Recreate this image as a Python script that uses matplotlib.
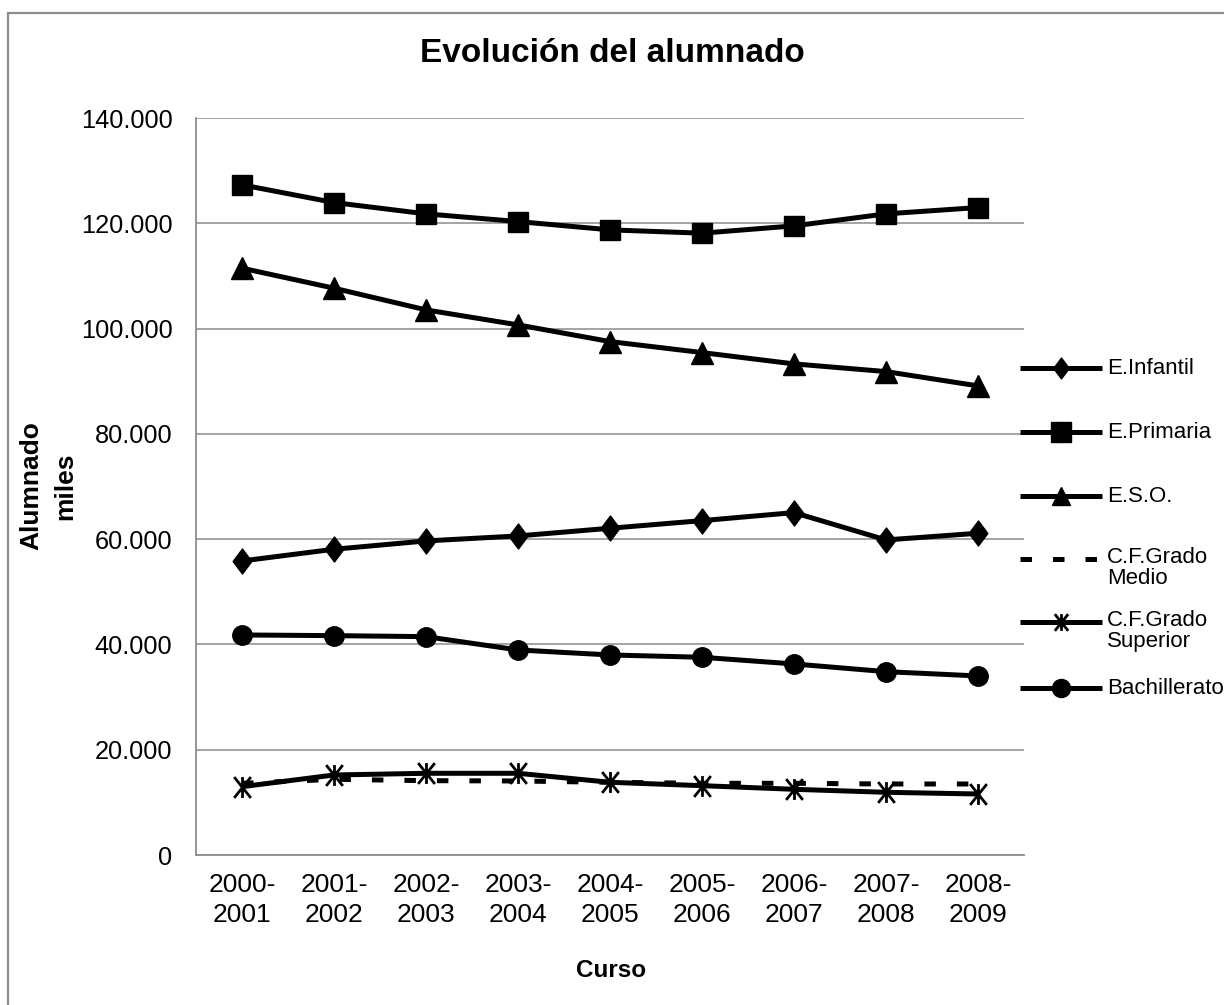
import matplotlib
matplotlib.use("Agg")
import matplotlib.pyplot as plt
from matplotlib.path import Path
from matplotlib.patches import Rectangle
from matplotlib.ticker import FuncFormatter, MultipleLocator

plt.rcParams['font.family'] = ['Liberation Sans', 'DejaVu Sans']

cursos = ["2000-\n2001", "2001-\n2002", "2002-\n2003", "2003-\n2004", "2004-\n2005",
          "2005-\n2006", "2006-\n2007", "2007-\n2008", "2008-\n2009"]

infantil = [55860, 58080, 59660, 60610, 62070, 63520, 65040, 59850, 61120]
primaria = [127300, 123940, 121790, 120330, 118750, 118120, 119510, 121790, 122990]
eso = [111470, 107670, 103550, 100700, 97530, 95440, 93290, 91830, 89110]
grado_medio = [13620, 14380, 14120, 14060, 13810, 13620, 13620, 13490, 13490]
grado_superior = [12980, 15200, 15520, 15520, 13810, 13170, 12480, 11910, 11590]
bachillerato = [41800, 41670, 41480, 38950, 38000, 37560, 36290, 34830, 34010]

series_labels = ["E.Infantil", "E.Primaria", "E.S.O.", "C.F.Grado\nMedio",
                 "C.F.Grado\nSuperior", "Bachillerato"]

# asterisk marker: X plus vertical line
star = Path([(-0.8, -1), (0.8, 1), (-0.8, 1), (0.8, -1), (0, -1), (0, 1)],
            [Path.MOVETO, Path.LINETO, Path.MOVETO, Path.LINETO, Path.MOVETO, Path.LINETO])
diamond = Path([(0, 1), (0.75, 0), (0, -1), (-0.75, 0), (0, 1)],
               [Path.MOVETO, Path.LINETO, Path.LINETO, Path.LINETO, Path.CLOSEPOLY])

LW = 3.6
styles = [
    dict(marker=diamond, markersize=18, ls='-'),
    dict(marker='s', markersize=14, ls='-'),
    dict(marker='^', markersize=15.5, ls='-'),
    dict(marker=None, ls=(0, (2.3, 4.2))),
    dict(marker=star, markersize=15, markeredgewidth=2.0, ls='-'),
    dict(marker='o', markersize=14, ls='-'),
]
data = [infantil, primaria, eso, grado_medio, grado_superior, bachillerato]

W, H = 1224, 1005
fig = plt.figure(figsize=(W / 100, H / 100), dpi=100)

# outer chart border
fig.patches.append(Rectangle((8 / W, 0 - 0.01), 1.05, 1 - 13 / H + 0.01,
                             transform=fig.transFigure, fill=False,
                             edgecolor='#8c8c8c', linewidth=1.6))

L, R, T, B = 196, 1024, 118, 855
ax = fig.add_axes([L / W, 1 - B / H, (R - L) / W, (B - T) / H])

x = list(range(len(cursos)))
for vals, st in zip(data, styles):
    ax.plot(x, vals, color='black', linewidth=LW, solid_capstyle='butt',
            dash_capstyle='butt', markerfacecolor='black', markeredgecolor='black',
            clip_on=False, **st)

ax.set_xlim(-0.5, len(cursos) - 0.5)
ax.set_ylim(0, 140000)
ax.yaxis.set_major_locator(MultipleLocator(20000))
ax.yaxis.set_major_formatter(FuncFormatter(lambda v, p: f"{int(v):,}".replace(",", ".")))
ax.set_xticks(x)
ax.set_xticklabels(cursos, fontsize=19, linespacing=1.3)
ax.tick_params(axis='y', labelsize=18.3, length=0, pad=17)
ax.tick_params(axis='x', length=0, pad=13)
ax.grid(axis='y', color='#8c8c8c', linewidth=1.1)
ax.set_axisbelow(True)
for s in ['top', 'right']:
    ax.spines[s].set_visible(False)
for s in ['left', 'bottom']:
    ax.spines[s].set_color('#8c8c8c')
    ax.spines[s].set_linewidth(1.3)

fig.text(612 / W, 1 - 53 / H, "Evolución del alumnado", fontsize=24,
         fontweight='bold', ha='center', va='center')
fig.text(611 / W, 1 - 970 / H, "Curso", fontsize=17.5, fontweight='bold',
         ha='center', va='center')
fig.text(48 / W, 1 - 486 / H, "Alumnado\nmiles", fontsize=19, fontweight='bold',
         ha='center', va='center', rotation=90, multialignment='center',
         linespacing=1.5)

# legend drawn in a pixel-coordinate overlay axes
lax = fig.add_axes([0, 0, 1, 1])
lax.set_xlim(0, W)
lax.set_ylim(H, 0)
lax.axis('off')
lax.patch.set_alpha(0)
leg_y = [368, 432, 496, 559, 622, 688]
leg_styles = [dict(st) for st in styles]
leg_styles[0]['markersize'] = 15
leg_styles[2]['markersize'] = 13
leg_styles[4]['markersize'] = 12
leg_styles[5]['markersize'] = 13
for yy, lab, st in zip(leg_y, series_labels, leg_styles):
    lax.plot([1020, 1061, 1102], [yy, yy, yy], color='black', linewidth=LW,
             markevery=[1], markerfacecolor='black', markeredgecolor='black',
             solid_capstyle='butt', dash_capstyle='butt', **st)
    if "\n" in lab:
        lax.text(1107, yy - 12, lab, fontsize=16, ha='left', va='top', linespacing=1.0)
    else:
        lax.text(1107, yy, lab, fontsize=16, ha='left', va='center')

fig.savefig("out.png", dpi=100, facecolor='white')
